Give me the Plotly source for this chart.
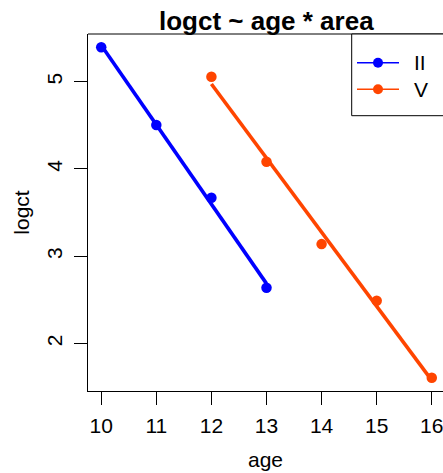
import numpy as np
import plotly.graph_objects as go

# ---- data ----
areas = ["II", "V"]
age_II = [10, 11, 12, 13]
logct_II = [5.395, 4.503, 3.670, 2.638]
age_V = [12, 13, 14, 15, 16]
logct_V = [5.057, 4.083, 3.139, 2.490, 1.607]
x_ticks = [10, 11, 12, 13, 14, 15, 16]
y_ticks = [2, 3, 4, 5]
colors = ["#0000FF", "#FF4500"]

W, H = 443, 473
L, R, T, B = 88, 0, 34, 82
PW, PH = W - L - R, H - T - B
FONT = "Liberation Sans, Arial, Helvetica, sans-serif"

def px_x(p):
    return (p - L) / PW

def px_y(p):
    return (H - B - p) / PH

fig = go.Figure()
series = [(age_II, logct_II), (age_V, logct_V)]
for name, (xs, ys), col in zip(areas, series, colors):
    xs_a = np.array(xs, float)
    ys_a = np.array(ys, float)
    k, b0 = np.polyfit(xs_a, ys_a, 1)
    xe = np.array([xs_a.min(), xs_a.max()])
    fig.add_trace(go.Scatter(x=xe, y=k * xe + b0, mode="lines",
                             line=dict(color=col, width=3.6),
                             showlegend=False, hoverinfo="skip"))
    fig.add_trace(go.Scatter(x=xs, y=ys, mode="markers", name=name,
                             marker=dict(color=col, size=10.5),
                             showlegend=False, cliponaxis=False))

# axis ranges like R (4% padding); right edge truncated by the window
all_x = age_II + age_V
all_y = logct_II + logct_V
dx = max(all_x) - min(all_x)
dy = max(all_y) - min(all_y)
xr0, xr1 = min(all_x) - 0.04 * dx, max(all_x) + 0.04 * dx
xr1 = xr0 + (xr1 - xr0) * PW / (PW + 2)
yr = [min(all_y) - 0.04 * dy, max(all_y) + 0.04 * dy]

axis_common = dict(showgrid=False, zeroline=False, showline=True,
                   linecolor="black", linewidth=1, ticks="outside",
                   ticklen=13, tickwidth=1, tickcolor="black",
                   ticklabeloverflow="allow",
                   tickfont=dict(family=FONT, size=21, color="black"))

fig.update_layout(
    width=W, height=H,
    margin=dict(l=L, r=R, t=T, b=B),
    paper_bgcolor="white", plot_bgcolor="white",
    showlegend=False,
    xaxis=dict(range=[xr0, xr1], tickvals=x_ticks, ticklabelstandoff=3,
               **axis_common,
               title=dict(text="age", font=dict(family=FONT, size=21, color="black"),
                          standoff=16)),
    yaxis=dict(range=yr, tickvals=y_ticks, tickangle=-90, ticklabelstandoff=4,
               **axis_common,
               title=dict(text="logct", font=dict(family=FONT, size=21, color="black"),
                          standoff=7)),
)

shapes = [
    # top edge of box
    dict(type="line", xref="paper", yref="paper", x0=0, x1=1.02, y0=1, y1=1,
         line=dict(color="black", width=1)),
    # legend frame
    dict(type="rect", xref="paper", yref="paper", x0=px_x(351.7), x1=1.05,
         y0=px_y(115.7), y1=1, line=dict(color="black", width=1),
         fillcolor="white", layer="above"),
]
annotations = [
    dict(text="<b>logct ~ age * area</b>", xref="paper", yref="paper",
         x=px_x(266.5), y=px_y(21), xanchor="center", yanchor="middle",
         showarrow=False, font=dict(family=FONT, size=26, color="black")),
]
for i, (name, col) in enumerate(zip(areas, colors)):
    yc = 62.7 + i * 26.6
    shapes.append(dict(type="line", xref="paper", yref="paper",
                       x0=px_x(357), x1=px_x(399), y0=px_y(yc), y1=px_y(yc),
                       line=dict(color=col, width=1.5), layer="above"))
    shapes.append(dict(type="circle", xref="paper", yref="paper",
                       xsizemode="pixel", ysizemode="pixel",
                       xanchor=px_x(378), yanchor=px_y(yc),
                       x0=-5, x1=5, y0=-5, y1=5,
                       line=dict(color=col, width=0), fillcolor=col, layer="above"))
    annotations.append(dict(text=name, xref="paper", yref="paper",
                            x=px_x(412), y=px_y(yc), xanchor="left", yanchor="middle",
                            showarrow=False,
                            font=dict(family=FONT, size=21, color="black")))

fig.update_layout(shapes=shapes, annotations=annotations)
fig.write_html("out.html")
